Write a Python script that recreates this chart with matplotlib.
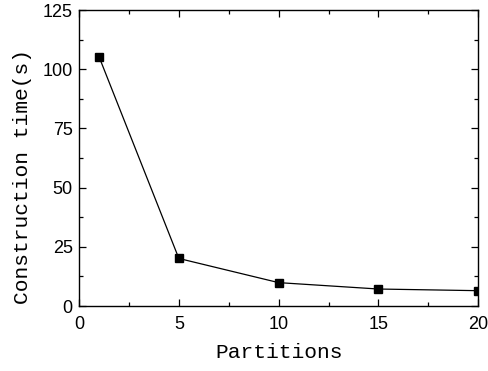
import matplotlib
matplotlib.use("Agg")
import matplotlib.pyplot as plt
from matplotlib.ticker import MultipleLocator

partitions = [1, 5, 10, 15, 20]
construction_time = [105.3, 20.1, 9.9, 7.2, 6.5]

fig = plt.figure(figsize=(4.88, 3.71), dpi=100)
ax = fig.add_axes([0.162, 0.175, 0.818, 0.798])

ax.plot(partitions, construction_time, color="black", linewidth=0.9,
        marker="s", markersize=5.5, markerfacecolor="black",
        markeredgecolor="black", clip_on=True)

ax.set_xlim(0, 20)
ax.set_ylim(0, 125)
ax.xaxis.set_major_locator(MultipleLocator(5))
ax.xaxis.set_minor_locator(MultipleLocator(2.5))
ax.yaxis.set_major_locator(MultipleLocator(25))
ax.yaxis.set_minor_locator(MultipleLocator(12.5))

ax.tick_params(which="both", direction="in", top=True, right=True,
               width=0.9, color="black")
ax.tick_params(which="major", length=5, labelsize=13)
ax.tick_params(which="minor", length=3)
ax.tick_params(axis="x", which="major", pad=7)
ax.tick_params(axis="y", which="major", pad=4.5)
for lab in ax.get_xticklabels() + ax.get_yticklabels():
    lab.set_fontfamily("Liberation Sans")

for sp in ax.spines.values():
    sp.set_linewidth(1.0)
    sp.set_color("black")

ax.set_xlabel("Partitions", fontfamily="Liberation Mono", fontsize=15.3)
ax.set_ylabel("Construction time(s)", fontfamily="Liberation Mono",
              fontsize=15.3)
ax.xaxis.set_label_coords(0.5, -0.125)
ax.yaxis.set_label_coords(-0.118, 0.439)

fig.savefig("out.png", dpi=100)
